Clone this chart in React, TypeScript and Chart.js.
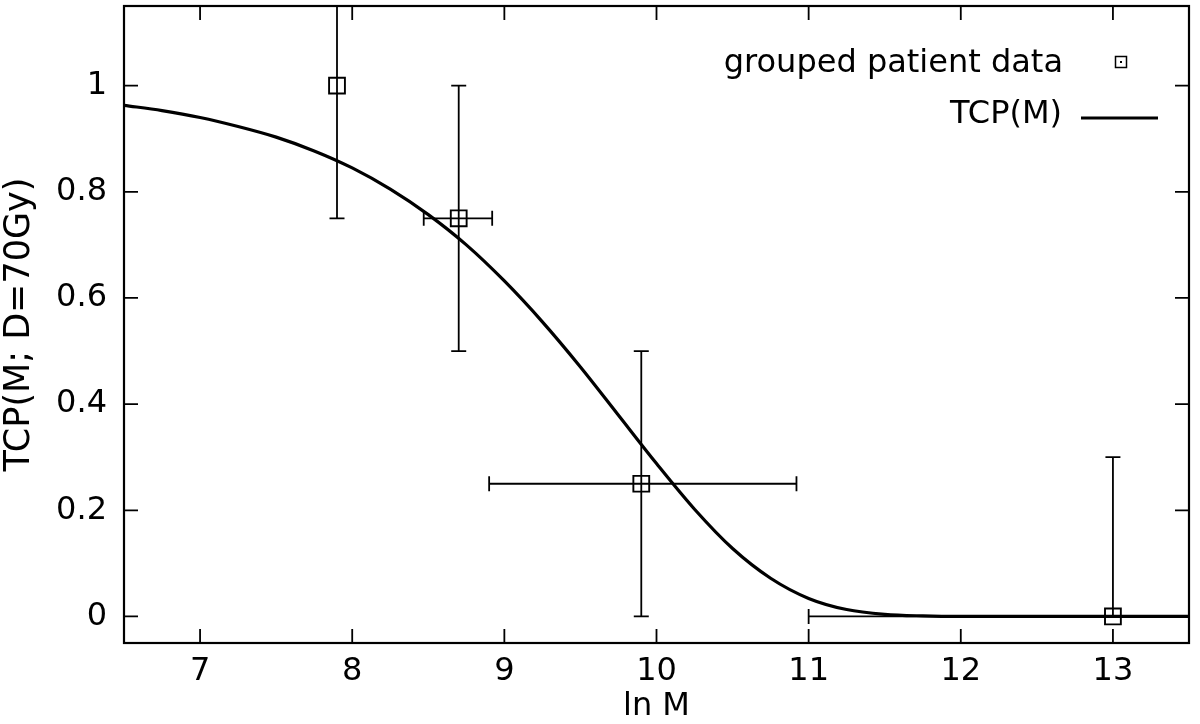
import React, { useEffect, useRef } from "react";
import { Chart, registerables } from "chart.js";

Chart.register(...registerables);

// ---- data ----
const xTicks = [7, 8, 9, 10, 11, 12, 13];
const yTicks = [0, 0.2, 0.4, 0.6, 0.8, 1];
const yTickLabels = ["0", "0.2", "0.4", "0.6", "0.8", "1"];

const pointX = [7.9, 8.7, 9.9, 13.0];
const pointY = [1.0, 0.75, 0.25, 0.0];
const errXLow = [7.9, 8.47, 8.9, 11.0];
const errXHigh = [7.9, 8.92, 10.92, 15.0];
const errYLow = [0.75, 0.5, 0.0, 0.0];
const errYHigh = [1.25, 1.0, 0.5, 0.3];

const curveX = [6.5, 6.75, 7, 7.25, 7.5, 7.75, 8, 8.25, 8.5, 8.75, 9, 9.25, 9.5, 9.75, 10, 10.25, 10.5, 10.75, 11, 11.25, 11.5, 11.75, 12, 12.5, 13, 13.5];
const curveY = [0.963, 0.953, 0.94, 0.923, 0.903, 0.877, 0.845, 0.805, 0.757, 0.7, 0.632, 0.555, 0.47, 0.379, 0.288, 0.202, 0.128, 0.072, 0.034, 0.013, 0.004, 0.001, 0, 0, 0, 0];

const seriesLabels = ["grouped patient data", "TCP(M)"];

const FONT = "'DejaVu Sans', sans-serif";
const INK = "#000";

const errorBarsPlugin = {
  id: "errorBars",
  beforeDatasetsDraw(chart: any) {
    const { ctx, chartArea, scales } = chart;
    const xs = scales.x;
    const ys = scales.y;
    const cap = 7.5;
    ctx.save();
    ctx.beginPath();
    ctx.rect(chartArea.left, chartArea.top, chartArea.right - chartArea.left, chartArea.bottom - chartArea.top);
    ctx.clip();
    ctx.strokeStyle = INK;
    ctx.lineWidth = 1.8;
    for (let i = 0; i < pointX.length; i++) {
      const px = xs.getPixelForValue(pointX[i]);
      const py = ys.getPixelForValue(pointY[i]);
      if (errYLow[i] !== errYHigh[i]) {
        const y0 = ys.getPixelForValue(errYLow[i]);
        const y1 = ys.getPixelForValue(errYHigh[i]);
        ctx.beginPath();
        ctx.moveTo(px, y0);
        ctx.lineTo(px, y1);
        ctx.moveTo(px - cap, y0);
        ctx.lineTo(px + cap, y0);
        ctx.moveTo(px - cap, y1);
        ctx.lineTo(px + cap, y1);
        ctx.stroke();
      }
      if (errXLow[i] !== errXHigh[i]) {
        const x0 = xs.getPixelForValue(errXLow[i]);
        const x1 = xs.getPixelForValue(errXHigh[i]);
        ctx.beginPath();
        ctx.moveTo(x0, py);
        ctx.lineTo(x1, py);
        ctx.moveTo(x0, py - cap);
        ctx.lineTo(x0, py + cap);
        ctx.moveTo(x1, py - cap);
        ctx.lineTo(x1, py + cap);
        ctx.stroke();
      }
    }
    ctx.restore();
  },
};

const framePlugin = {
  id: "frame",
  afterDraw(chart: any) {
    const { ctx, chartArea, scales } = chart;
    const { left, right, top, bottom } = chartArea;
    const tl = 14;
    ctx.save();
    ctx.strokeStyle = INK;
    ctx.lineWidth = 1.8;
    ctx.beginPath();
    for (const t of scales.x.ticks) {
      const x = scales.x.getPixelForValue(t.value);
      ctx.moveTo(x, bottom);
      ctx.lineTo(x, bottom - tl);
      ctx.moveTo(x, top);
      ctx.lineTo(x, top + tl);
    }
    for (const t of scales.y.ticks) {
      const y = scales.y.getPixelForValue(t.value);
      ctx.moveTo(left, y);
      ctx.lineTo(left + tl, y);
      ctx.moveTo(right, y);
      ctx.lineTo(right - tl, y);
    }
    ctx.stroke();
    ctx.lineWidth = 2.2;
    ctx.strokeRect(left, top, right - left, bottom - top);

    // legend
    ctx.fillStyle = INK;
    ctx.font = `32px ${FONT}`;
    ctx.textAlign = "right";
    ctx.textBaseline = "middle";
    ctx.fillText(seriesLabels[0], 1063, 64);
    ctx.fillText(seriesLabels[1], 1062, 115);
    ctx.lineWidth = 1.5;
    ctx.strokeRect(1115.5, 56.5, 11, 11);
    ctx.fillRect(1120, 61, 2, 2);
    ctx.lineWidth = 3.2;
    ctx.beginPath();
    ctx.moveTo(1081, 118);
    ctx.lineTo(1158, 118);
    ctx.stroke();
    ctx.restore();
  },
};

export default function App() {
  const ref = useRef<HTMLCanvasElement | null>(null);

  useEffect(() => {
    if (!ref.current) return;
    const pts = pointX.map((x, i) => ({ x, y: pointY[i] }));
    const curve = curveX.map((x, i) => ({ x, y: curveY[i] }));
    const chart = new Chart(ref.current, {
      type: "scatter",
      data: {
        datasets: [
          {
            label: seriesLabels[0],
            data: pts,
            showLine: false,
            pointStyle: "rect",
            pointRadius: 11.2,
            pointBorderWidth: 1.9,
            pointBorderColor: INK,
            pointBackgroundColor: "rgba(0,0,0,0)",
            borderColor: INK,
            backgroundColor: "rgba(0,0,0,0)",
          },
          {
            label: seriesLabels[1],
            data: curve,
            showLine: true,
            pointRadius: 0,
            borderColor: INK,
            borderWidth: 3.2,
            cubicInterpolationMode: "monotone",
            fill: false,
          },
        ],
      },
      options: {
        animation: false,
        responsive: false,
        events: [],
        layout: { autoPadding: false, padding: { left: 0, top: 6, right: 11, bottom: 0 } },
        plugins: {
          legend: { display: false },
          tooltip: { enabled: false },
        },
        scales: {
          x: {
            type: "linear",
            position: "bottom",
            min: 6.5,
            max: 13.5,
            grid: { display: false, drawTicks: false },
            border: { display: false },
            afterBuildTicks: (s: any) => {
              s.ticks = xTicks.map((v) => ({ value: v }));
            },
            afterFit: (s: any) => {
              s.height = 81;
              s.paddingLeft = 0;
              s.paddingRight = 0;
            },
            ticks: {
              font: { family: FONT, size: 32 },
              color: INK,
              padding: 9,
              maxRotation: 0,
              autoSkip: false,
              includeBounds: false,
              callback: (v: any) => String(v),
            },
            title: {
              display: true,
              text: "ln M",
              color: INK,
              font: { family: FONT, size: 32, lineHeight: 1 },
              padding: { top: 0, bottom: 1 },
            },
          },
          y: {
            type: "linear",
            position: "left",
            min: -0.05,
            max: 1.15,
            grid: { display: false, drawTicks: false },
            border: { display: false },
            afterBuildTicks: (s: any) => {
              s.ticks = yTicks.map((v) => ({ value: v }));
            },
            afterFit: (s: any) => {
              s.width = 124;
              s.paddingTop = 0;
              s.paddingBottom = 0;
            },
            ticks: {
              font: { family: FONT, size: 32 },
              color: INK,
              padding: 17,
              autoSkip: false,
              includeBounds: false,
              callback: (v: any) => {
                const i = yTicks.indexOf(v);
                return i >= 0 ? yTickLabels[i] : "";
              },
            },
            title: {
              display: true,
              text: "TCP(M; D=70Gy)",
              color: INK,
              font: { family: FONT, size: 35, lineHeight: 1 },
              padding: { top: 2, bottom: 0 },
            },
          },
        },
      },
      plugins: [errorBarsPlugin, framePlugin],
    } as any);
    return () => chart.destroy();
  }, []);

  return (
    <div style={{ position: "absolute", left: 0, top: 0, width: 1200, height: 724, background: "#fff" }}>
      <canvas ref={ref} width={1200} height={724} style={{ display: "block", width: 1200, height: 724 }} />
    </div>
  );
}
